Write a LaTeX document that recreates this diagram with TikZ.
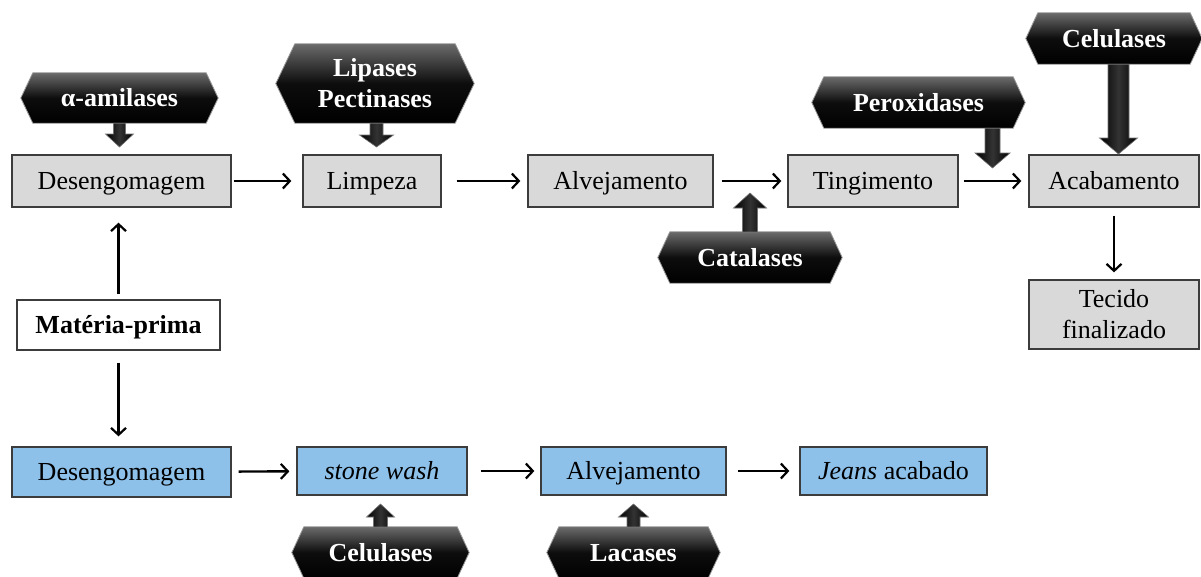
\documentclass[tikz,border=0pt]{standalone}
\usepackage{fontspec}
\setmainfont{Liberation Serif}
\usetikzlibrary{arrows.meta,calc,backgrounds}

\definecolor{boxgray}{RGB}{217,217,217}
\definecolor{boxblue}{RGB}{141,193,234}
\definecolor{edgegray}{RGB}{60,60,60}

\tikzset{
  txt/.style={font=\fontsize{26}{31}\selectfont},
  oneline/.style={text height=17.5pt, text depth=0pt},
  multiline/.style={text height={}, text depth={}},
  proc/.style={txt, oneline, draw=edgegray, line width=1.3pt, fill=boxgray, inner sep=0pt, align=center},
  procblue/.style={proc, fill=boxblue},
  rawbox/.style={proc, fill=white, font=\fontsize{26}{31}\selectfont\bfseries},
  enz/.style={oneline, inner sep=0pt, text=white, align=center,
    font=\fontsize{26}{31}\selectfont\bfseries},
  hexfill/.style={top color=black!58, bottom color=black, middle color=black!95,
    draw=black!40, line width=0.8pt},
  blkfill/.style={left color=black, right color=black, middle color=black!80,
    draw=black!55, line width=0.6pt},
  flow/.style={line width=2.4pt, -{Straight Barb[length=7pt,width=15pt,line width=2.2pt]}}
}

% hexagonal enzyme badge behind a named node: #1 node, #2 corner inset
\newcommand\enzhex[2]{%
  \begin{pgfonlayer}{background}
    \shadedraw[hexfill] ([xshift=#2pt]#1.north west) -- ([xshift=-#2pt]#1.north east)
      -- (#1.east) -- ([xshift=-#2pt]#1.south east) -- ([xshift=#2pt]#1.south west)
      -- (#1.west) -- cycle;
  \end{pgfonlayer}}

% vertical block arrow: #1 start, #2 tip, #3 shaft half width, #4 head half width, #5 head length
\newcommand\enzarrow[5]{%
  \shadedraw[blkfill] let \p1=#1, \p2=#2, \p3=($#2!#5pt!#1$) in
    ({\x1-#3pt},\y1) -- ({\x1-#3pt},\y3) -- ({\x1-#4pt},\y3)
    -- (\x1,\y2) -- ({\x1+#4pt},\y3) -- ({\x1+#3pt},\y3)
    -- ({\x1+#3pt},\y1) -- cycle;}

\begin{document}
\begin{tikzpicture}[x=1pt,y=-1pt]
\useasboundingbox (0,0) rectangle (1201,576);
\begin{pgfonlayer}{background}
  \fill[white] (0,0) rectangle (1201,576);
\end{pgfonlayer}

% process steps, textile route
\node[proc, minimum width=219pt, minimum height=52pt] (dA) at (121.5,181) {Desengomagem};
\node[proc, minimum width=138pt, minimum height=52pt] (lim) at (372,181) {Limpeza};
\node[proc, minimum width=185pt, minimum height=52pt] (alvA) at (620.5,181) {Alvejamento};
\node[proc, minimum width=170pt, minimum height=52pt] (ting) at (873,181) {Tingimento};
\node[proc, minimum width=170pt, minimum height=52pt] (acab) at (1114,181) {Acabamento};
\node[proc, multiline, minimum width=170pt, minimum height=69pt] (tec) at (1114,314.5) {Tecido\\finalizado};

% raw material
\node[rawbox, minimum width=203pt, minimum height=50pt] (mat) at (118.5,325) {Matéria-prima};

% process steps, denim route
\node[procblue, minimum width=219pt, minimum height=50pt] (dB) at (121.5,472) {Desengomagem};
\node[procblue, minimum width=170pt, minimum height=48pt] (sw) at (382,471) {\textit{stone wash}};
\node[procblue, minimum width=185pt, minimum height=48pt] (alvB) at (633.5,471) {Alvejamento};
\node[procblue, minimum width=187pt, minimum height=48pt] (jeans) at (893.5,471) {\textit{Jeans} acabado};

% enzymes
\node[enz, minimum width=197pt, minimum height=50pt] (amil) at (119.5,98) {α-amilases};
\node[enz, multiline, minimum width=198pt, minimum height=79pt] (lip) at (375,83.5) {Lipases\\[0pt]Pectinases};
\node[enz, minimum width=184pt, minimum height=51pt] (cat) at (750,257.5) {Catalases};
\node[enz, minimum width=213pt, minimum height=51pt] (perox) at (918.5,102.5) {Peroxidases};
\node[enz, minimum width=176pt, minimum height=51pt] (celA) at (1114,38.5) {Celulases};
\node[enz, minimum width=177pt, minimum height=51pt] (celB) at (380.5,552.5) {Celulases};
\node[enz, minimum width=173pt, minimum height=51pt] (lac) at (633.5,552.5) {Lacases};

\enzhex{amil}{12}
\enzhex{lip}{19}
\enzhex{cat}{12}
\enzhex{perox}{12}
\enzhex{celA}{12}
\enzhex{celB}{12}
\enzhex{lac}{12}

% free ends of the enzyme arrows
\coordinate (cattip) at (750,193);
\coordinate (pxtip) at (992.5,168);
\coordinate (celtip) at (1118.5,154);
\coordinate (amiltip) at (119.5,147);
\coordinate (liptip) at (376.5,147);
\coordinate (swtip) at (380.5,504);
\coordinate (alvtip) at (633.5,504);

% enzyme arrows
\enzarrow{(amil.south)}{(amiltip)}{6}{14}{13}
\enzarrow{(lip.south -| liptip)}{(liptip)}{6.5}{17}{12}
\enzarrow{(cat.north)}{(cattip)}{7.5}{16.5}{15}
\enzarrow{(perox.south -| pxtip)}{(pxtip)}{7.5}{17.5}{15}
\enzarrow{(celA.south -| celtip)}{(celtip)}{10.5}{19}{16}
\enzarrow{(celB.north)}{(swtip)}{7}{14}{13}
\enzarrow{(lac.north)}{(alvtip)}{6.5}{15}{13}

% flow, textile route
\draw[flow, shorten <=2pt, shorten >=11pt] (dA) -- (lim);
\draw[flow, shorten <=15pt, shorten >=7pt] (lim) -- (alvA);
\draw[flow, shorten <=8pt, shorten >=6pt] (alvA) -- (ting);
\draw[flow, shorten <=5pt, shorten >=7pt] (ting) -- (acab);
\draw[flow, shorten <=8pt, shorten >=7pt] (acab) -- (tec);

% flow from the raw material
\draw[flow, shorten <=5pt, shorten >=15pt] (mat.north) -- (mat.north |- dA.south);
\draw[flow, shorten <=12pt, shorten >=10pt] (mat.south) -- (mat.south |- dB.north);

% flow, denim route
\draw[flow, shorten <=7pt, shorten >=7pt] (dB) -- (sw);
\draw[flow, shorten <=13pt, shorten >=6pt] (sw) -- (alvB);
\draw[flow, shorten <=11pt, shorten >=10pt] (alvB) -- (jeans);
\end{tikzpicture}
\end{document}
